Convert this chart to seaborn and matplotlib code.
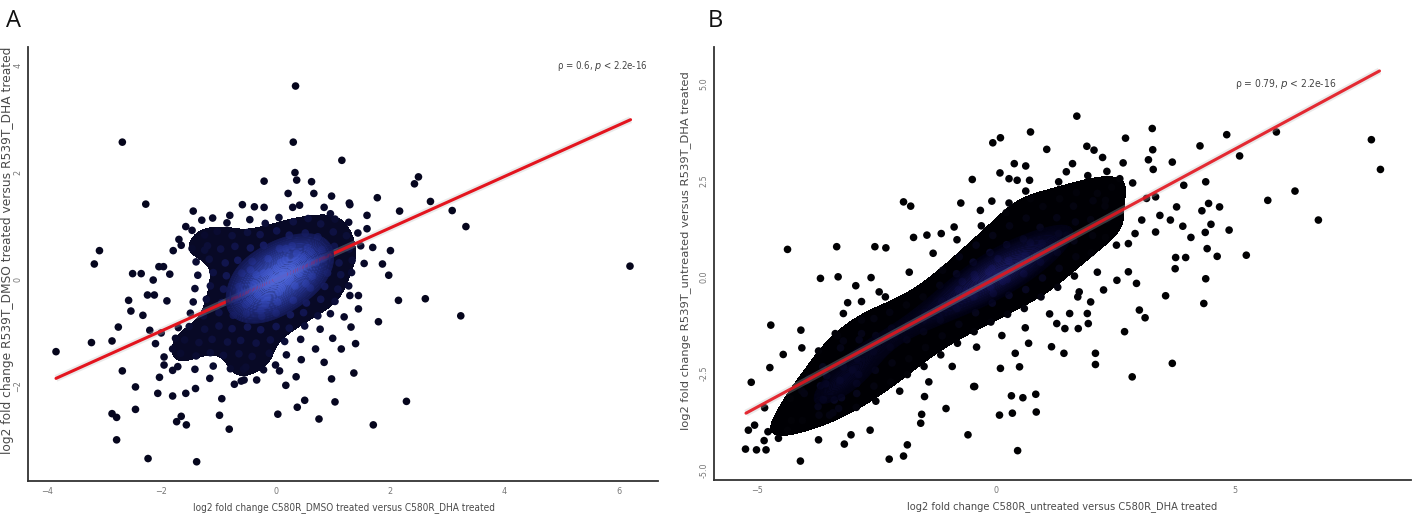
import numpy as np
import matplotlib
matplotlib.use("Agg")
import matplotlib.pyplot as plt
from matplotlib import font_manager as fm
from matplotlib.colors import LinearSegmentedColormap, ListedColormap
import seaborn as sns

# ---------------- Panel A data ----------------
a_outliers = [
    (0.35, 3.62), (-2.68, 2.57), (0.31, 2.57), (1.16, 2.23), (0.34, 2.0), (0.37, 1.86),
    (-0.20, 1.84), (0.63, 1.83), (2.50, 1.92), (2.43, 1.79), (2.71, 1.46), (3.09, 1.29),
    (3.33, 0.99), (2.17, 1.28), (1.78, 1.53), (-2.27, 1.41), (-3.08, 0.54), (-3.17, 0.29),
    (6.20, 0.25), (-2.50, 0.11), (-2.35, 0.11), (1.98, 0.08), (2.01, 0.54), (1.87, 0.29),
    (2.15, -0.39), (2.62, -0.36), (3.24, -0.68), (1.80, -0.79), (1.32, -0.89), (-3.84, -1.35),
    (-3.22, -1.18), (-2.86, -1.15), (-2.75, -0.89), (-2.57, -0.39), (-2.53, -0.59), (-2.32, -0.67),
    (-2.24, -0.29), (-2.12, -0.29), (-2.14, -0.01), (-2.04, 0.24), (-1.96, 0.24), (-2.68, -1.71),
    (-2.03, -1.83), (-2.06, -2.13), (-2.45, -2.01), (-2.86, -2.51), (-2.78, -2.58), (-2.45, -2.43),
    (-2.78, -3.00), (-2.23, -3.35), (-1.38, -3.41), (-1.73, -2.66), (-1.65, -2.56), (-1.56, -2.72),
    (-0.98, -2.54), (-0.81, -2.80), (-0.94, -2.23), (0.04, -2.52), (0.38, -2.39), (0.51, -2.26),
    (0.76, -2.61), (1.04, -2.29), (0.98, -1.86), (1.37, -1.75), (1.71, -2.72), (2.29, -2.28),
    (0.18, -1.98), (0.36, -1.82), (0.07, -1.71), (-1.80, -2.18), (-1.57, -2.13), (-1.40, -2.04),
    (-0.55, -1.88), (-0.33, -1.88), (-0.72, -1.96), (-0.56, -1.68), (-1.44, 1.28), (-1.29, 1.11),
    (-1.57, 0.99), (-1.46, 0.92), (-1.79, 0.54), (-1.69, 0.75), (-1.65, 0.64), (-1.24, 0.55),
    (-0.85, 1.06), (-0.58, 1.40), (-0.37, 1.36), (0.22, 1.61), (0.67, 1.61), (0.98, 1.56),
    (1.29, 1.43), (0.96, 1.23), (0.42, 1.39), (-2.10, -1.20), (-1.95, -1.45), (-1.80, -1.70),
    (-2.20, -0.95), (-1.75, -1.10), (1.30, -0.30), (1.45, -0.55), (1.15, -1.30), (0.85, -1.55),
    (1.40, -1.20),
]
a_core = [
    (-0.45, 1.12), (-0.18, 1.05), (0.06, 1.16), (0.31, 1.08), (0.57, 1.14), (0.79, 1.04), (1.04, 1.13), (1.28, 1.07),
    (-1.24, 0.83), (-1.02, 0.90), (-0.76, 0.82), (-0.49, 0.88), (-0.27, 0.84), (0.02, 0.91), (0.24, 0.83), (0.52, 0.87),
    (0.74, 0.80), (1.01, 0.89), (1.24, 0.82), (1.44, 0.87),
    (-1.46, 0.58), (-1.19, 0.63), (-0.96, 0.57), (-0.71, 0.62), (-0.44, 0.59), (-0.21, 0.64), (0.07, 0.58), (0.29, 0.63),
    (0.56, 0.60), (0.81, 0.56), (1.03, 0.62), (1.29, 0.57), (1.49, 0.63),
    (-1.39, 0.33), (-1.16, 0.38), (-0.88, 0.31), (-0.66, 0.36), (-0.41, 0.34), (-0.13, 0.39), (0.09, 0.32), (0.36, 0.37),
    (0.61, 0.33), (0.84, 0.38), (1.11, 0.31), (1.34, 0.36),
    (-1.36, 0.08), (-1.09, 0.13), (-0.86, 0.07), (-0.59, 0.12), (-0.34, 0.09), (-0.11, 0.14), (0.16, 0.08), (0.41, 0.11),
    (0.64, 0.06), (0.91, 0.12), (1.14, 0.09), (1.33, 0.13),
    (-1.41, -0.17), (-1.14, -0.12), (-0.91, -0.18), (-0.64, -0.13), (-0.39, -0.16), (-0.16, -0.11), (0.11, -0.17),
    (0.34, -0.12), (0.61, -0.16), (0.86, -0.13), (1.09, -0.18), (1.28, -0.12),
    (-1.44, -0.42), (-1.21, -0.37), (-0.94, -0.43), (-0.71, -0.38), (-0.46, -0.41), (-0.19, -0.36), (0.04, -0.42),
    (0.31, -0.39), (0.54, -0.44), (0.79, -0.37), (1.04, -0.41),
    (-1.49, -0.63), (-1.26, -0.68), (-0.99, -0.62), (-0.74, -0.67), (-0.51, -0.64), (-0.24, -0.69), (0.01, -0.63),
    (0.26, -0.66), (0.49, -0.62), (0.74, -0.68), (0.96, -0.64),
    (-1.51, -0.88), (-1.24, -0.93), (-0.99, -0.87), (-0.76, -0.92), (-0.49, -0.89), (-0.26, -0.94), (0.01, -0.88),
    (0.24, -0.91), (0.51, -0.87), (0.78, -0.93),
    (-1.59, -1.13), (-1.34, -1.18), (-1.11, -1.12), (-0.84, -1.17), (-0.61, -1.14), (-0.34, -1.19), (-0.09, -1.13),
    (0.16, -1.16), (0.44, -1.12),
    (-1.66, -1.38), (-1.39, -1.43), (-1.14, -1.37), (-0.91, -1.42), (-0.64, -1.39), (-0.41, -1.44), (-0.11, -1.38),
    (0.19, -1.41),
    (-1.71, -1.63), (-1.41, -1.68), (-1.09, -1.62), (-0.79, -1.67), (-0.52, -1.64), (-0.21, -1.69),
    (-0.31, -0.29), (-0.09, -0.06), (0.12, 0.14), (0.29, 0.24), (0.48, 0.42), (-0.52, -0.47), (0.01, 0.21),
    (0.22, -0.04), (-0.21, 0.12), (0.42, 0.19), (0.16, 0.36), (-0.14, -0.33), (-0.38, -0.08), (0.62, 0.52),
    (0.06, -0.24), (0.37, 0.49), (-0.26, -0.58), (0.26, 0.02), (-0.04, 0.03), (0.11, -0.14), (-0.62, -0.22),
    (0.71, 0.31), (-0.44, 0.18), (0.53, -0.08), (0.18, 0.58), (-0.18, -0.48),
    (-1.90, -0.40), (-1.85, 0.10), (-1.70, -0.90), (-1.80, -1.30), (-1.95, -1.60), (1.60, 0.95), (1.55, 0.30),
    (1.45, -0.30), (1.20, -0.70), (1.00, -1.10), (0.70, -1.30), (0.45, -1.50), (-0.20, 1.35), (0.30, 1.35),
    (0.85, 1.35), (-0.80, 1.20), (-1.10, 1.15), (1.60, 1.20), (1.30, 1.40), (-2.00, -1.00), (-1.15, -1.85),
    (-0.60, -1.90), (0.00, -1.60), (1.70, 0.60),
]
a_fit_x = [-3.84, 6.21]
a_fit_y = [-1.85, 2.99]
a_xticks = [-4, -2, 0, 2, 4, 6]
a_yticks = [-2, 0, 2, 4]
a_xlabel = "log2 fold change C580R_DMSO treated versus C580R_DHA treated"
a_ylabel = "log2 fold change R539T_DMSO treated versus R539T_DHA treated"
a_rho = "0.6"

# ---------------- Panel B data ----------------
b_outliers = [
    (1.69, 4.16), (0.72, 3.75), (-0.07, 3.47), (0.09, 3.60), (1.06, 3.30), (1.90, 3.38), (2.05, 3.28), (2.71, 3.59),
    (3.27, 3.84), (3.28, 3.29), (4.83, 3.68), (5.87, 3.75), (7.86, 3.55), (8.05, 2.78), (4.27, 3.39), (5.10, 3.13),
    (3.69, 2.97), (3.29, 2.78), (3.19, 3.03), (2.23, 3.09), (1.60, 2.93), (0.38, 2.93), (0.62, 2.87), (0.08, 2.69),
    (0.27, 2.54), (0.44, 2.50), (-0.50, 2.52), (2.66, 2.95), (2.32, 2.73), (2.59, 2.54), (2.86, 2.43), (3.93, 2.37),
    (4.39, 2.46), (6.26, 2.22), (5.69, 1.98), (6.75, 1.47), (4.45, 1.90), (4.68, 1.81), (3.78, 1.81), (4.31, 1.71),
    (3.65, 1.47), (3.91, 1.31), (4.50, 1.36), (4.88, 1.21), (4.38, 1.15), (4.08, 1.02), (4.42, 0.73), (4.63, 0.53),
    (5.24, 0.56), (3.97, 0.50), (3.76, 0.50), (3.75, 0.21), (4.39, -0.05), (3.55, -0.49), (4.35, -0.69), (3.69, -2.24),
    (2.85, -2.59), (3.00, -0.86), (3.12, -1.06), (2.69, -1.42), (2.08, -1.98), (2.08, -2.27), (1.42, -1.98),
    (0.83, -3.04), (0.84, -3.50), (0.56, -3.13), (0.32, -3.08), (0.34, -3.53), (0.07, -3.58), (0.45, -4.50),
    (-0.47, -2.84), (-0.59, -4.09), (-1.05, -3.41), (-1.56, -3.56), (-1.58, -3.79), (-1.86, -4.35), (-1.94, -4.64),
    (-2.24, -4.72), (-1.50, -3.10), (-2.64, -3.97), (-3.04, -4.09), (-3.18, -4.33), (-3.72, -4.22), (-4.10, -4.77),
    (-4.56, -4.18), (-4.82, -4.48), (-5.02, -4.48), (-5.25, -4.46), (-5.19, -3.97), (-5.06, -3.84), (-4.86, -4.24),
    (-4.78, -4.01), (-5.13, -2.73), (-4.85, -3.39), (-4.74, -2.35), (-4.72, -1.25), (-4.46, -2.01), (-4.37, 0.71),
    (-4.09, -1.38), (-4.07, -1.84), (-4.31, -3.15), (-4.07, -2.95), (-4.37, -3.97), (-4.06, -3.72), (-4.29, -3.72),
    (-3.96, -2.69), (-3.68, -0.04), (-3.34, 0.78), (-3.31, 0.00), (-2.54, 0.78), (-2.31, 0.75), (-2.62, -0.02),
    (-2.45, -0.39), (-2.94, -0.23), (-3.11, -0.67), (-3.20, -0.95), (-2.82, -0.64), (-3.37, -1.47), (-3.20, -1.66),
    (-2.82, -1.47), (-1.94, 1.94), (-1.79, 1.83), (-1.73, 1.02), (-1.45, 1.08), (-1.15, 1.12), (-0.88, 1.29),
    (-0.74, 1.91), (-0.33, 1.72), (-0.09, 1.96), (0.27, 1.91), (0.62, 2.22), (0.70, 2.50), (1.47, 2.72),
    (2.12, 2.16), (2.29, 1.98), (3.15, 2.03), (3.34, 2.07), (3.43, 1.59), (3.34, 1.16), (2.91, 1.12), (3.05, 1.47),
    (2.77, 0.86), (2.77, 0.13), (2.94, -0.17), (2.53, -0.09), (2.25, -0.34), (1.98, -0.65), (1.74, -0.39),
    (1.91, -0.95), (1.54, -0.95), (1.27, -1.21), (1.72, -1.34), (1.44, -1.34), (1.93, -1.21), (0.68, -1.72),
    (1.16, -1.81), (0.49, -2.33), (0.40, -1.98), (0.09, -2.37), (-0.45, -2.84), (-3.55, -2.56), (-3.68, -2.82),
    (-3.39, -3.19), (-3.30, -3.41), (-3.49, -3.58), (-3.73, -3.36), (-3.20, -2.33), (-2.92, -2.76), (-3.01, -2.41),
]
b_core = [
    (-3.62, -3.18), (-3.57, -2.77), (-3.63, -2.33),
    (-3.24, -3.13), (-3.27, -2.68), (-3.22, -2.23), (-3.26, -1.84),
    (-2.92, -3.02), (-2.88, -2.53), (-2.91, -2.12), (-2.87, -1.63),
    (-2.56, -2.83), (-2.53, -2.42), (-2.57, -1.93), (-2.52, -1.52), (-2.56, -1.08),
    (-2.21, -2.72), (-2.18, -2.23), (-2.22, -1.82), (-2.19, -1.33), (-2.23, -0.92),
    (-1.86, -2.53), (-1.83, -2.12), (-1.87, -1.63), (-1.84, -1.22), (-1.88, -0.73),
    (-1.51, -2.32), (-1.48, -1.83), (-1.52, -1.42), (-1.49, -0.93), (-1.53, -0.52),
    (-1.16, -2.02), (-1.13, -1.53), (-1.17, -1.12), (-1.14, -0.63), (-1.18, -0.22), (-1.12, 0.17),
    (-0.81, -1.72), (-0.78, -1.23), (-0.82, -0.82), (-0.79, -0.33), (-0.83, 0.08), (-0.77, 0.52),
    (-0.46, -1.42), (-0.43, -0.93), (-0.47, -0.52), (-0.44, -0.03), (-0.48, 0.38), (-0.42, 0.82),
    (-0.11, -1.17), (-0.08, -0.68), (-0.12, -0.27), (-0.09, 0.22), (-0.13, 0.63), (-0.07, 1.07),
    (0.24, -0.97), (0.27, -0.48), (0.23, -0.07), (0.26, 0.42), (0.22, 0.83), (0.28, 1.32),
    (0.59, -0.82), (0.62, -0.33), (0.58, 0.08), (0.61, 0.57), (0.57, 0.98), (0.63, 1.52),
    (0.94, -0.52), (0.97, -0.03), (0.93, 0.38), (0.96, 0.87), (0.92, 1.28), (0.98, 1.82),
    (1.29, -0.27), (1.32, 0.22), (1.28, 0.63), (1.31, 1.12), (1.27, 1.53), (1.33, 2.02),
    (1.64, 0.02), (1.67, 0.52), (1.63, 0.93), (1.66, 1.42), (1.62, 1.83), (1.68, 2.18),
    (1.99, 0.62), (2.02, 1.07), (1.98, 1.48), (2.03, 1.97),
    (2.29, 1.02), (2.32, 1.47), (2.28, 1.83),
    (-0.62, -0.38), (-0.28, -0.22), (0.02, 0.03), (0.31, 0.18), (0.58, 0.42), (-0.91, -0.62), (0.88, 0.61),
    (-0.16, 0.13), (0.14, -0.12), (-0.46, 0.06), (0.47, 0.33), (-1.21, -0.82), (1.19, 0.78), (0.04, 0.47),
    (-0.06, -0.43), (-1.52, -1.12), (1.48, 1.08), (-1.81, -1.28), (-2.12, -1.52), (-0.71, -0.12), (0.72, 0.88),
    (-3.92, -2.62), (-3.71, -3.58), (-3.42, -3.52), (-2.93, -3.38), (-2.52, -3.22), (-2.02, -2.96), (-1.41, -2.72),
    (-0.92, -2.32), (-0.41, -1.82), (0.12, -1.52), (0.61, -1.32), (1.12, -0.96), (1.71, -0.52), (2.12, 0.12),
    (2.52, 0.82), (2.48, 1.62), (2.42, 2.32), (1.92, 2.62), (1.31, 2.46), (0.72, 2.02), (0.21, 1.66),
    (-0.31, 1.32), (-0.82, 0.96), (-1.32, 0.61), (-1.82, 0.12), (-2.32, -0.52), (-2.82, -1.12), (-3.32, -1.52),
    (-3.72, -1.92), (-4.02, -3.02),
]
b_fit_x = [-5.24, 8.03]
b_fit_y = [-3.53, 5.33]
b_xticks = [-5, 0, 5]
b_yticks = [-5.0, -2.5, 0.0, 2.5, 5.0]
b_xlabel = "log2 fold change C580R_untreated versus C580R_DHA treated"
b_ylabel = "log2 fold change R539T_untreated versus R539T_DHA treated"
b_rho = "0.79"

# ---------------- fonts ----------------
sns.set_style("white")


def font_exists(fam):
    try:
        fm.findfont(fm.FontProperties(family=fam), fallback_to_default=False)
        return True
    except Exception:
        return False


if font_exists("Liberation Sans Narrow"):
    NARROW = dict(family=["Liberation Sans Narrow", "DejaVu Sans"])
elif "Condensed" in fm.findfont(fm.FontProperties(family="DejaVu Sans", stretch="condensed")):
    NARROW = dict(family=["DejaVu Sans"], stretch="condensed")
else:
    NARROW = dict(family=["Liberation Sans", "DejaVu Sans"])
WIDE = dict(family=["DejaVu Sans"])

plt.rcParams["font.family"] = NARROW["family"]
plt.rcParams["mathtext.fontset"] = "custom"
plt.rcParams["mathtext.it"] = NARROW["family"][0] + ":italic"
plt.rcParams["mathtext.rm"] = NARROW["family"][0]

# ---------------- colours ----------------
dot_cmap_a = LinearSegmentedColormap.from_list(
    "dA", [(0, "#05051a"), (0.45, "#08092a"), (0.75, "#161c62"), (1, "#2a3ea8")])
glow_cmap_a = LinearSegmentedColormap.from_list(
    "gA", [(0, "#161c5e"), (0.3, "#263494"), (0.65, "#3a50c2"), (1, "#5068da")])
dot_cmap_b = LinearSegmentedColormap.from_list(
    "dB", [(0, "#000000"), (0.6, "#020208"), (1, "#0c0c3a")])
glow_cmap_b = LinearSegmentedColormap.from_list(
    "gB", [(0, "#03031a"), (0.5, "#0b0b3c"), (1, "#1c1c68")])
mass_a = ListedColormap(["#080926"])
mass_b = ListedColormap(["#000004"])


def density(x, y, bw):
    pts = np.c_[x, y]
    d2 = ((pts[:, None, :] - pts[None, :, :]) ** 2).sum(-1)
    d = np.exp(-d2 / (2 * bw ** 2)).sum(1)
    return d / d.max()


fig = plt.figure(figsize=(14.17, 5.18), dpi=100)
axA = fig.add_axes([28 / 1417, 37 / 518, 630 / 1417, 434 / 518])
axB = fig.add_axes([714 / 1417, 38 / 518, 697 / 1417, 433 / 518])


def panel(ax, outliers, core, fit_x, fit_y, dot_cmap, glow_cmap, mass_cmap, bw, mass_lv, mass_bw,
          glow_lv, glow_alpha, line_z):
    pts = outliers + core
    x = np.array([p[0] for p in pts])
    y = np.array([p[1] for p in pts])
    dens = density(x, y, bw)
    sns.kdeplot(x=x, y=y, fill=True, levels=[mass_lv, 1.0], cmap=mass_cmap,
                bw_adjust=mass_bw, ax=ax, zorder=1)
    ax.plot(fit_x, fit_y, color="#bbbbbb", linewidth=5, alpha=0.3, zorder=line_z,
            solid_capstyle="butt")
    sns.lineplot(x=fit_x, y=fit_y, color="#e3141e", linewidth=2.2, ax=ax, zorder=line_z + 0.1,
                 alpha=0.9 if line_z > 3 else 1.0, estimator=None)
    sns.scatterplot(x=x, y=y, hue=dens, palette=dot_cmap, hue_norm=(0, 1), s=30,
                    linewidth=0, legend=False, ax=ax, zorder=2)
    sns.kdeplot(x=x, y=y, fill=True, levels=list(np.linspace(glow_lv, 1.0, 40)),
                cmap=glow_cmap, bw_adjust=0.8, alpha=glow_alpha, ax=ax, zorder=3,
                antialiased=True)


panel(axA, a_outliers, a_core, a_fit_x, a_fit_y, dot_cmap_a, glow_cmap_a, mass_a,
      0.45, 0.56, 0.65, 0.80, 0.95, 2.5)
panel(axB, b_outliers, b_core, b_fit_x, b_fit_y, dot_cmap_b, glow_cmap_b, mass_b,
      0.6, 0.6, 0.75, 0.84, 0.85, 5)

renderer = fig.canvas.get_renderer()


def fit(t, target, vertical=False):
    bb = t.get_window_extent(renderer)
    cur = bb.height if vertical else bb.width
    if cur > 0:
        t.set_fontsize(t.get_fontsize() * target / cur)


specs = [
    (axA, a_xticks, a_yticks, a_xlabel, a_ylabel, (-4.33, 6.69), (-3.77, 4.35), a_rho, 4.92, 4.0,
     303, 410, 90, (0.502, -0.062), (-0.032, 0.532)),
    (axB, b_xticks, b_yticks, b_xlabel, b_ylabel, (-5.91, 8.69), (-5.26, 5.95), b_rho, 5.0, 5.0,
     311, 360, 102, (0.50, -0.062), (-0.041, 0.53)),
]
for (ax, xt, yt, xl, yl, xlim, ylim, rho, tx, ty, xw, yh, tw, xlc, ylc) in specs:
    ax.set_xlim(*xlim)
    ax.set_ylim(*ylim)
    ax.set_xticks(xt)
    ax.set_yticks(yt)
    if ax is axB:
        ax.set_yticklabels([f"{v:.1f}" for v in yt])
    ax.tick_params(axis="both", length=2.5, width=0.8, color="#888888", labelsize=6.5,
                   labelcolor="#777777", pad=1.5)
    for lab in ax.get_yticklabels():
        lab.set_rotation(90)
        lab.set_va("center")
    for lab in ax.get_xticklabels() + ax.get_yticklabels():
        lab.set_fontproperties(fm.FontProperties(size=6.5, **NARROW))
    for s in ["top", "right"]:
        ax.spines[s].set_visible(False)
    for s in ["left", "bottom"]:
        ax.spines[s].set_color("#333333")
        ax.spines[s].set_linewidth(1.3)
    xlab = ax.set_xlabel(xl, fontsize=9.5, color="#4a4a4a", va="center", **NARROW)
    ylab = ax.set_ylabel(yl, fontsize=9.5, color="#4a4a4a", va="center", **WIDE)
    ax.xaxis.set_label_coords(*xlc)
    ax.yaxis.set_label_coords(*ylc)
    fit(xlab, xw)
    fit(ylab, yh, vertical=True)
    t = ax.text(tx, ty, "ρ = " + rho + ", $p$ < 2.2e-16", fontsize=8, color="#444444",
                ha="left", va="center", **NARROW)
    fit(t, tw)
    ax.grid(False)
    ax.set_facecolor("white")

fig.text(6 / 1417, 1 - 9 / 518, "A", fontsize=17, family=["Open Sans", "DejaVu Sans"],
         ha="left", va="top", color="#111111")
fig.text(708 / 1417, 1 - 9 / 518, "B", fontsize=17, family=["Open Sans", "DejaVu Sans"],
         ha="left", va="top", color="#111111")

fig.savefig("out.png", dpi=100, facecolor="white")
